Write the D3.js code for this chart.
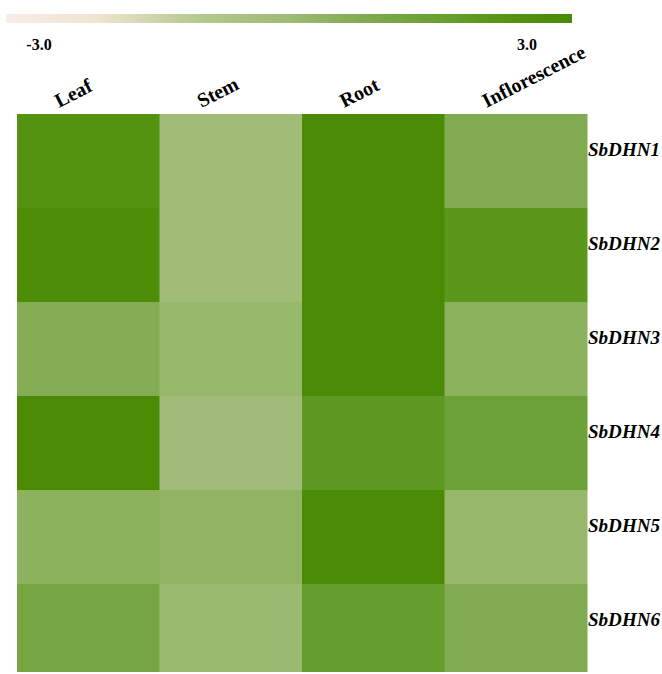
<!DOCTYPE html>
<html>
<head>
<meta charset="utf-8">
<script src="https://cdn.jsdelivr.net/npm/d3@7/dist/d3.min.js"></script>
<style>
  html, body { margin: 0; padding: 0; background: #fff; }
  svg { display: block; }
</style>
</head>
<body>
<script>
// ---- data ----
const tissues = ["Leaf", "Stem", "Root", "Inflorescence"];
const genes = ["SbDHN1", "SbDHN2", "SbDHN3", "SbDHN4", "SbDHN5", "SbDHN6"];
const leafValues = [2.4, 2.8, 0.7, 3.0, 0.45, 1.1];
const stemValues = [-0.05, -0.05, 0.2, -0.1, 0.4, 0.1];
const rootValues = [3.0, 3.0, 3.0, 2.0, 3.0, 1.7];
const inflorescenceValues = [0.8, 2.1, 0.45, 1.5, 0.2, 0.8];
const legendTicks = ["-3.0", "3.0"];
const colorStops = [-3, -2, -1, 0, 0.5, 1, 1.6, 2.3, 3];
const colorRange = ["#f8ece8", "#ede5cf", "#b6c98e", "#9fbb76", "#8bb15b", "#79a748", "#68a032", "#559412", "#4a8a04"];

const seriesByTissue = [leafValues, stemValues, rootValues, inflorescenceValues];
const cells = [];
tissues.forEach((t, i) => genes.forEach((g, j) => cells.push({ tissue: t, gene: g, value: seriesByTissue[i][j] })));

// ---- layout ----
const W = 662, H = 674;
const svg = d3.select("body").append("svg").attr("width", W).attr("height", H);
const serif = "'Liberation Serif', 'Times New Roman', Times, serif";

const color = d3.scaleLinear().domain(colorStops).range(colorRange).interpolate(d3.interpolateRgb).clamp(true);

const x = d3.scaleBand().domain(tissues).range([17, 587]).padding(0);
const y = d3.scaleBand().domain(genes).range([114, 678]).padding(0);

// legend
const lx = d3.scaleLinear().domain([-3, 3]).range([6, 572]);
const defs = svg.append("defs");
const grad = defs.append("linearGradient").attr("id", "lg").attr("x1", "0%").attr("x2", "100%");
d3.range(0, 21).forEach(i => {
  const v = -3 + i * 0.3;
  grad.append("stop").attr("offset", (i * 5) + "%").attr("stop-color", color(v));
});
svg.append("rect")
  .attr("x", lx(-3)).attr("y", 14)
  .attr("width", lx(3) - lx(-3)).attr("height", 9)
  .attr("fill", "url(#lg)");

svg.selectAll("text.leg").data(legendTicks).enter().append("text")
  .attr("class", "leg")
  .attr("x", (d, i) => i === 0 ? lx(-3) + 33 : lx(3) - 45)
  .attr("y", 50)
  .attr("text-anchor", "middle")
  .attr("font-family", serif)
  .attr("font-weight", "bold")
  .attr("font-size", 16)
  .attr("fill", "#000")
  .text(d => d);

// cells
defs.append("clipPath").attr("id", "clip").append("rect")
  .attr("x", 0).attr("y", 0).attr("width", W).attr("height", 672);
svg.append("g").attr("clip-path", "url(#clip)")
  .selectAll("rect").data(cells).enter().append("rect")
  .attr("x", d => x(d.tissue))
  .attr("y", d => y(d.gene))
  .attr("width", x.bandwidth() + 0.5)
  .attr("height", y.bandwidth() + 0.5)
  .attr("fill", d => color(d.value));

// column labels
svg.selectAll("text.col").data(tissues).enter().append("text")
  .attr("class", "col")
  .attr("transform", d => `translate(${x(d) + 42},108) rotate(-27)`)
  .attr("text-anchor", "start")
  .attr("font-family", serif)
  .attr("font-weight", "bold")
  .attr("font-size", 20)
  .attr("fill", "#000")
  .text(d => d);

// row labels
svg.selectAll("text.row").data(genes).enter().append("text")
  .attr("class", "row")
  .attr("x", 588)
  .attr("y", d => y(d) + y.bandwidth() / 2 - 11)
  .attr("dy", "0.35em")
  .attr("text-anchor", "start")
  .attr("font-family", serif)
  .attr("font-weight", "bold")
  .attr("font-style", "italic")
  .attr("font-size", 18)
  .attr("textLength", 72)
  .attr("lengthAdjust", "spacingAndGlyphs")
  .attr("fill", "#000")
  .text(d => d);
</script>
</body>
</html>
